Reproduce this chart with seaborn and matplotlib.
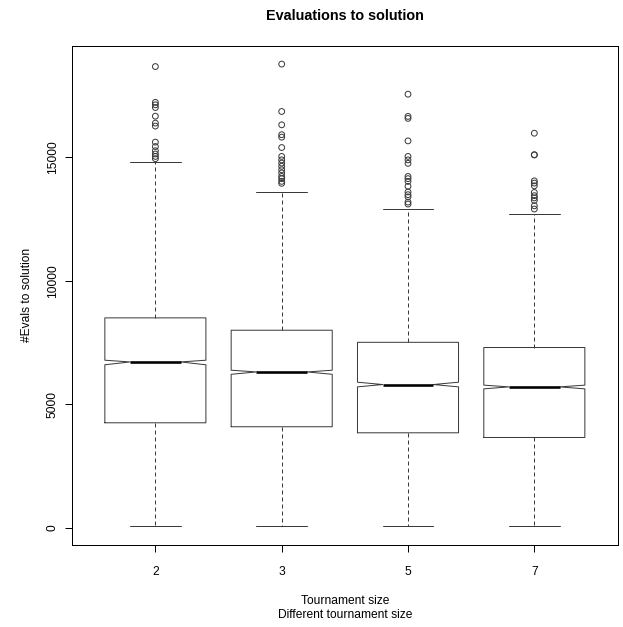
import matplotlib
matplotlib.use("Agg")
import matplotlib.pyplot as plt
import seaborn as sns
import pandas as pd

# ---- data ----
tournament_sizes = ["2", "3", "5", "7"]
q1 = [4250, 4090, 3845, 3655]
median = [6715, 6310, 5800, 5705]
q3 = [8500, 8000, 7510, 7300]
notch_lo = [6600, 6215, 5705, 5625]
notch_hi = [6785, 6380, 5895, 5775]
whisker_lo = [50, 50, 50, 50]
whisker_hi = [14800, 13600, 12920, 12720]

outliers_2 = [18680, 17230, 17130, 17020, 16670, 16390, 16270, 15620, 15440,
              15270, 15140, 15040, 14950]
outliers_3 = [18780, 16860, 16320, 15920, 15820, 15400, 15040, 14900, 14770,
              14640, 14500, 14370, 14230, 14140, 14030, 13950]
outliers_5 = [17560, 16660, 16580, 15670, 15040, 14900, 14760, 14230, 14140,
              14030, 13830, 13600, 13490, 13400, 13190, 13110]
outliers_7 = [15980, 15110, 15100, 14050, 13960, 13850, 13580, 13450, 13360,
              13260, 13040, 12910]

title = "Evaluations to solution"
xlabel = "Tournament size"
sub_label = "Different tournament size"
ylabel = "#Evals to solution"
y_ticks = [0, 5000, 10000, 15000]

# ---- style ----
sns.set_style("white")
plt.rcParams["font.family"] = ["Liberation Sans", "DejaVu Sans"]

W, H = 623, 627
fig = plt.figure(figsize=(W / 72, H / 72), dpi=72)
left, right, top, bottom = 72, 617.7, 45.7, 545.0
ax = fig.add_axes([left / W, 1 - bottom / H, (right - left) / W, (bottom - top) / H])

line_col = "#3a3a3a"

# outliers via seaborn (categorical axis)
out_df = pd.DataFrame({
    "size": (["2"] * len(outliers_2) + ["3"] * len(outliers_3)
             + ["5"] * len(outliers_5) + ["7"] * len(outliers_7)),
    "evals": outliers_2 + outliers_3 + outliers_5 + outliers_7,
})
sns.stripplot(data=out_df, x="size", y="evals", order=tournament_sizes,
              jitter=False, marker="o", size=5.8, facecolor="none",
              edgecolor=line_col, linewidth=1, ax=ax, zorder=3)
for coll in ax.collections:
    coll.set_facecolor("none")
    coll.set_edgecolor(line_col)
    coll.set_linewidth(1.0)

# notched boxes from summary statistics
stats = []
for i, lab in enumerate(tournament_sizes):
    stats.append(dict(label=lab, q1=q1[i], med=median[i], q3=q3[i],
                      cilo=notch_lo[i], cihi=notch_hi[i],
                      whislo=whisker_lo[i], whishi=whisker_hi[i], fliers=[]))
ax.bxp(stats, positions=range(len(tournament_sizes)), widths=0.8,
       shownotches=True, showfliers=False, manage_ticks=False,
       boxprops=dict(color=line_col, linewidth=1.0),
       whiskerprops=dict(color=line_col, linewidth=1.0, linestyle=(0, (4, 3))),
       capprops=dict(color=line_col, linewidth=1.0),
       medianprops=dict(color="black", linewidth=2.6, solid_capstyle="butt"))

ax.set_xlim(-0.66, 3.66)
ax.set_ylim(-700, 19525)
ax.set_xticks(range(len(tournament_sizes)))
ax.set_xticklabels(tournament_sizes)
ax.set_yticks(y_ticks)
ax.set_yticklabels([str(v) for v in y_ticks], rotation=90, va="center")

for s in ax.spines.values():
    s.set_visible(True)
    s.set_color("black")
    s.set_linewidth(1.0)

ax.tick_params(axis="both", which="both", direction="out", length=7, width=1,
               color="black", labelsize=12, labelcolor="black",
               left=True, bottom=True)
ax.tick_params(axis="x", pad=14)
ax.tick_params(axis="y", pad=6)

ax.set_xlabel(xlabel + "\n" + sub_label, fontsize=12, linespacing=1.2,
              labelpad=17, color="black")
ax.set_ylabel(ylabel, fontsize=12, labelpad=14, color="black")
ax.set_title(title, fontsize=14.4, fontweight="bold", pad=26, color="black")

fig.savefig("out.png", dpi=72, facecolor="white")
